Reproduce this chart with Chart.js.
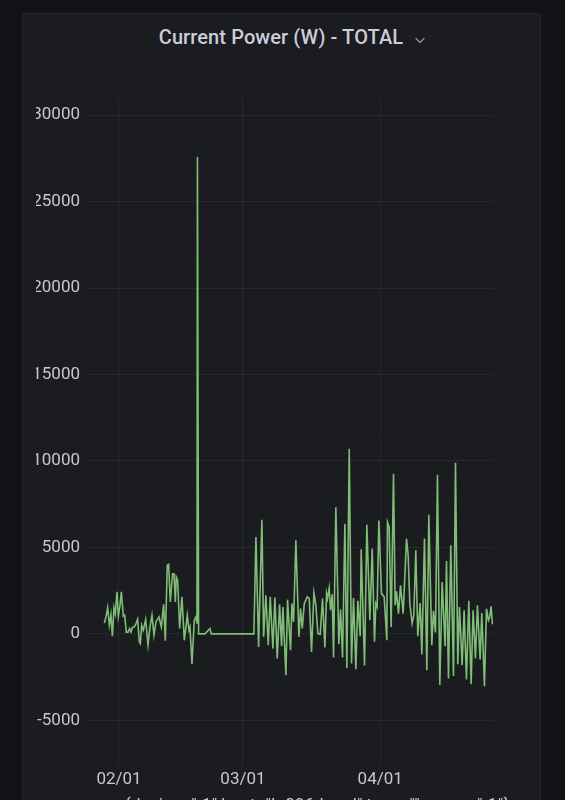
<!DOCTYPE html>
<html>
<head>
<meta charset="utf-8">
<style>
  html, body { margin: 0; height: 100%; background: #111217; overflow: hidden; }
  #panel { position: absolute; left: 22px; top: 13px; width: 519px; height: 800px; box-sizing: border-box;
    background: #1a1c20; border: 1px solid #24262b; border-radius: 3px; }
  #head { position: absolute; left: 10px; top: 25px; width: 565px; text-align: center; color: #ccccdc;
    font: 500 20px Roboto, sans-serif; line-height: 24px; white-space: nowrap; letter-spacing: 0.1px; }
  #head svg { margin-left: 6px; vertical-align: -2px; }
  #wrap { position: absolute; left: 36px; top: 80px; width: 505px; height: 740px; }
  #legend { position: absolute; left: 125px; top: 794px; color: #c7c7d1; white-space: nowrap;
    font: 400 17px Roboto, sans-serif; line-height: 20px; letter-spacing: 0.3px; }
</style>
</head>
<body>
<div id="panel"></div>
<div id="head">Current Power (W) - TOTAL <svg width="12" height="12" viewBox="0 0 12 12"><path d="M1.5 4 L6 8.5 L10.5 4" fill="none" stroke="#8e8e98" stroke-width="1.3"/></svg></div>
<div id="wrap"><canvas id="myChart"></canvas></div>
<div id="legend"></div>
<script src="https://cdn.jsdelivr.net/npm/chart.js@4"></script>
<script>
// days counted from 02/01
const days = [-3.31,-2.93,-2.56,-2.18,-1.81,-1.5,-1.13,-0.83,-0.45,-0.15,0.23,0.53,0.98,1.28,1.66,2.03,2.41,2.71,3.09,3.46,3.84,4.21,4.59,4.82,5.12,5.49,6.02,6.55,7.0,7.45,7.9,8.35,9.03,9.56,10.08,10.46,10.91,11.21,11.59,12.11,12.42,12.72,12.94,13.24,13.7,14.22,14.75,15.43,15.8,16.03,16.48,17.0,17.38,17.61,17.72,17.98,19.41,20.54,20.84,30.47,30.93,31.53,32.28,32.66,33.18,33.71,34.16,34.76,35.21,35.74,36.27,36.72,37.02,37.7,38.07,38.75,39.05,39.43,39.95,40.63,41.01,41.39,41.84,42.51,42.97,43.49,44.02,44.47,44.92,45.45,45.97,46.5,46.88,47.1,47.48,47.78,48.16,48.46,48.98,49.66,50.04,50.49,51.02,51.47,52.0,52.52,52.97,53.5,53.95,54.48,54.7,55.46,55.98,56.66,57.19,57.71,58.01,58.31,58.69,59.29,59.89,60.49,60.64,61.02,61.47,62.0,62.37,62.68,63.13,63.58,64.18,64.94,65.31,65.69,66.21,66.59,67.04,67.49,68.02,68.4,69.0,69.53,69.98,70.65,71.03,71.48,71.93,72.46,72.99,73.66,73.97,74.42,74.94,75.55,76.0,76.52,76.9,77.5,77.95,78.48,79.01,79.53,79.98,80.51,80.96,81.56,81.94,82.54,83.0,83.44,83.74,84.04,84.34];
const power = [635,980,1520,500,1120,-135,1520,1170,2430,1020,1660,2430,1020,1080,100,100,310,100,400,400,600,850,-460,-560,500,210,830,-650,400,1080,-80,690,980,400,1710,-400,3970,4020,1850,3480,3480,1850,3290,3100,310,2140,-370,1080,210,400,-1750,790,980,600,27580,0,0,310,0,0,5600,-750,6600,-170,2230,-650,2140,-850,2100,-1420,1710,-710,1560,-2390,1980,-940,1750,690,5410,-170,1460,310,1750,2140,2040,-1040,2370,1660,20,-20,2040,-790,2330,2040,2660,1370,2290,-1370,7330,-600,1410,-1370,6370,-1980,10700,-1710,2080,-2040,1910,-130,4890,-1830,6310,790,4930,-460,1750,1560,6560,2330,2140,-370,6470,6180,400,9260,1660,2460,1170,2810,1170,5510,4540,1750,600,1080,4830,-130,1790,-1190,5510,-2100,6890,-650,1330,80,9200,-2960,3000,-710,4220,-2580,5120,-2440,9890,-1750,1560,-1810,1370,-2640,1910,-2910,1370,-1420,1660,-1480,1210,-3020,1460,790,980,1600,560];
const xTickDays = [0, 28, 59];
const xTickLabels = ['02/01', '03/01', '04/01'];
const yTicks = [-5000, 0, 5000, 10000, 15000, 20000, 25000, 30000];
const seriesName = '{device="-1",host="k-096.local",type="",name="-1"}';

const points = days.map((d, i) => ({ x: d, y: power[i] }));
const gridColor = 'rgba(204,204,220,0.07)';
const tickColor = '#c7c7d1';

document.getElementById('legend').textContent = seriesName;

new Chart(document.getElementById('myChart'), {
  type: 'line',
  data: {
    datasets: [{
      label: seriesName,
      data: points,
      borderColor: '#80bd76',
      borderWidth: 1.6,
      pointRadius: 0,
      tension: 0
    }]
  },
  options: {
    responsive: true,
    maintainAspectRatio: false,
    animation: false,
    layout: { padding: { right: 47 } },
    plugins: { legend: { display: false }, tooltip: { enabled: false } },
    scales: {
      x: {
        type: 'linear',
        min: -7,
        max: 84.7,
        afterBuildTicks(axis) { axis.ticks = xTickDays.map(v => ({ value: v })); },
        afterFit(axis) { axis.height = 54; },
        ticks: {
          autoSkip: false,
          maxRotation: 0,
          padding: 4,
          color: tickColor,
          font: { family: 'Roboto', size: 17 },
          callback(v) { return xTickLabels[xTickDays.indexOf(v)]; }
        },
        grid: { color: gridColor, drawTicks: false },
        border: { display: false }
      },
      y: {
        min: -7640,
        max: 30980,
        afterBuildTicks(axis) { axis.ticks = yTicks.map(v => ({ value: v })); },
        afterFit(axis) { axis.width = 52; },
        ticks: {
          padding: 8,
          color: tickColor,
          font: { family: 'Roboto', size: 17 },
          callback(v) { return String(v); }
        },
        grid: { color: gridColor, drawTicks: false },
        border: { display: false }
      }
    }
  }
});
</script>
</body>
</html>
